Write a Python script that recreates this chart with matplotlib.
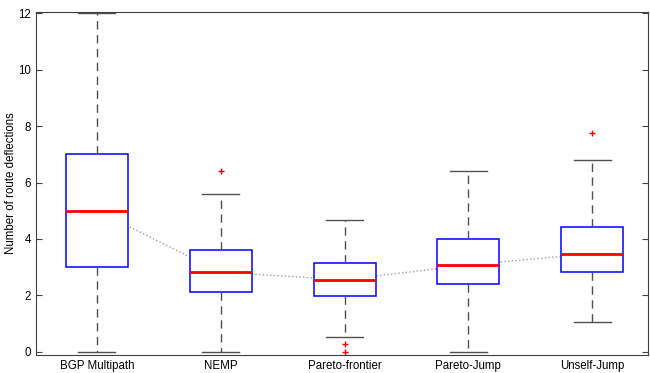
import matplotlib.pyplot as plt

plt.rcParams['font.family'] = ['Liberation Sans', 'DejaVu Sans']

labels = ["BGP Multipath", "NEMP", "Pareto-frontier", "Pareto-Jump", "Unself-Jump"]
whislo = [0.0, 0.0, 0.52, 0.0, 1.07]
q1 = [3.0, 2.13, 1.99, 2.4, 2.82]
med = [5.0, 2.82, 2.55, 3.08, 3.48]
q3 = [7.0, 3.61, 3.15, 4.0, 4.41]
whishi = [12.0, 5.58, 4.67, 6.4, 6.79]
fliers = [[], [6.4], [0.27, 0.0], [], [7.74]]

stats = []
for i in range(len(labels)):
    stats.append(dict(label=labels[i], whislo=whislo[i], q1=q1[i], med=med[i],
                      q3=q3[i], whishi=whishi[i], fliers=fliers[i]))

fig = plt.figure(figsize=(6.5, 3.73), dpi=100)
ax = fig.add_axes([0.055, 0.048, 0.942, 0.92])
pos = list(range(1, len(labels) + 1))

# dotted line linking the medians, hidden behind the white boxes
ax.plot(pos, med, linestyle=':', color='#a0a0a0', lw=1, zorder=1)
ax.bxp(stats, positions=pos, widths=0.5, patch_artist=True, zorder=2,
       boxprops=dict(facecolor='white', edgecolor='blue', lw=1.1),
       medianprops=dict(color='red', lw=2),
       whiskerprops=dict(color='#505050', linestyle=(0, (6, 4)), lw=1),
       capprops=dict(color='#505050', lw=1),
       capwidths=0.3,
       flierprops=dict(marker='+', markeredgecolor='red', markersize=5, lw=0))

ax.set_xlim(0.507, 5.45)
ax.set_ylim(-0.12, 12.05)
ax.set_yticks(range(0, 13, 2))
ax.set_ylabel("Number of route deflections", fontsize=8.3)
ax.yaxis.set_label_coords(-0.031, 0.5)
ax.tick_params(axis='y', direction='in', right=True, labelsize=8.3, length=4, color='#404040')
ax.tick_params(axis='x', length=0, labelsize=8.3)
for s in ax.spines.values():
    s.set_color('#404040')

fig.savefig("out.png", dpi=100)
